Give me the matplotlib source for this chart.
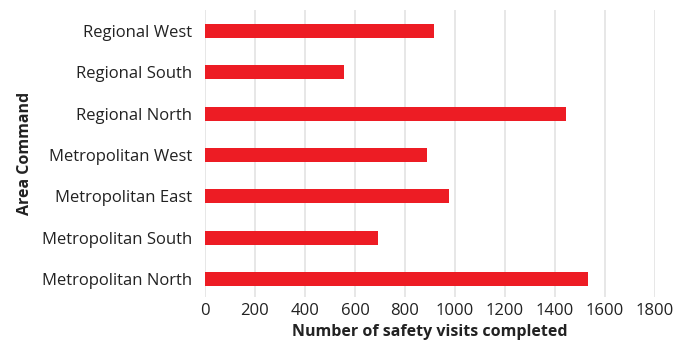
import matplotlib
matplotlib.use("Agg")
import matplotlib.pyplot as plt

areas = ["Metropolitan North", "Metropolitan South", "Metropolitan East",
         "Metropolitan West", "Regional North", "Regional South", "Regional West"]
visits = [1531, 692, 977, 888, 1443, 555, 915]
xticks = [0, 200, 400, 600, 800, 1000, 1200, 1400, 1600, 1800]

plt.rcParams['font.family'] = ['Open Sans', 'DejaVu Sans']
text_color = "#222222"

fig = plt.figure(figsize=(6.77, 3.42), dpi=100)
ax = fig.add_axes([205/677, 45/342, 450/677, 287/342])

ax.barh(range(len(areas)), visits, height=0.34, color="#ED1C24", zorder=3)
ax.set_xlim(0, 1800)
ax.set_ylim(-0.44, 6.51)
ax.set_xticks(xticks)
ax.set_xticklabels([str(t) for t in xticks])
ax.set_yticks(range(len(areas)))
ax.set_yticklabels(areas)
ax.tick_params(axis='both', length=0, labelsize=12, colors=text_color)
ax.tick_params(axis='y', pad=9)
ax.tick_params(axis='x', pad=4)
ax.grid(axis='x', color="#e3e3e3", linewidth=1.2, zorder=0)
for s in ax.spines.values():
    s.set_visible(False)

ax.set_xlabel("Number of safety visits completed", fontsize=11.5,
              fontweight='bold', color=text_color, labelpad=4)
ax.set_ylabel("Area Command", fontsize=11.5, fontweight='bold',
              color=text_color, labelpad=7)

fig.savefig("out.png", dpi=100)
